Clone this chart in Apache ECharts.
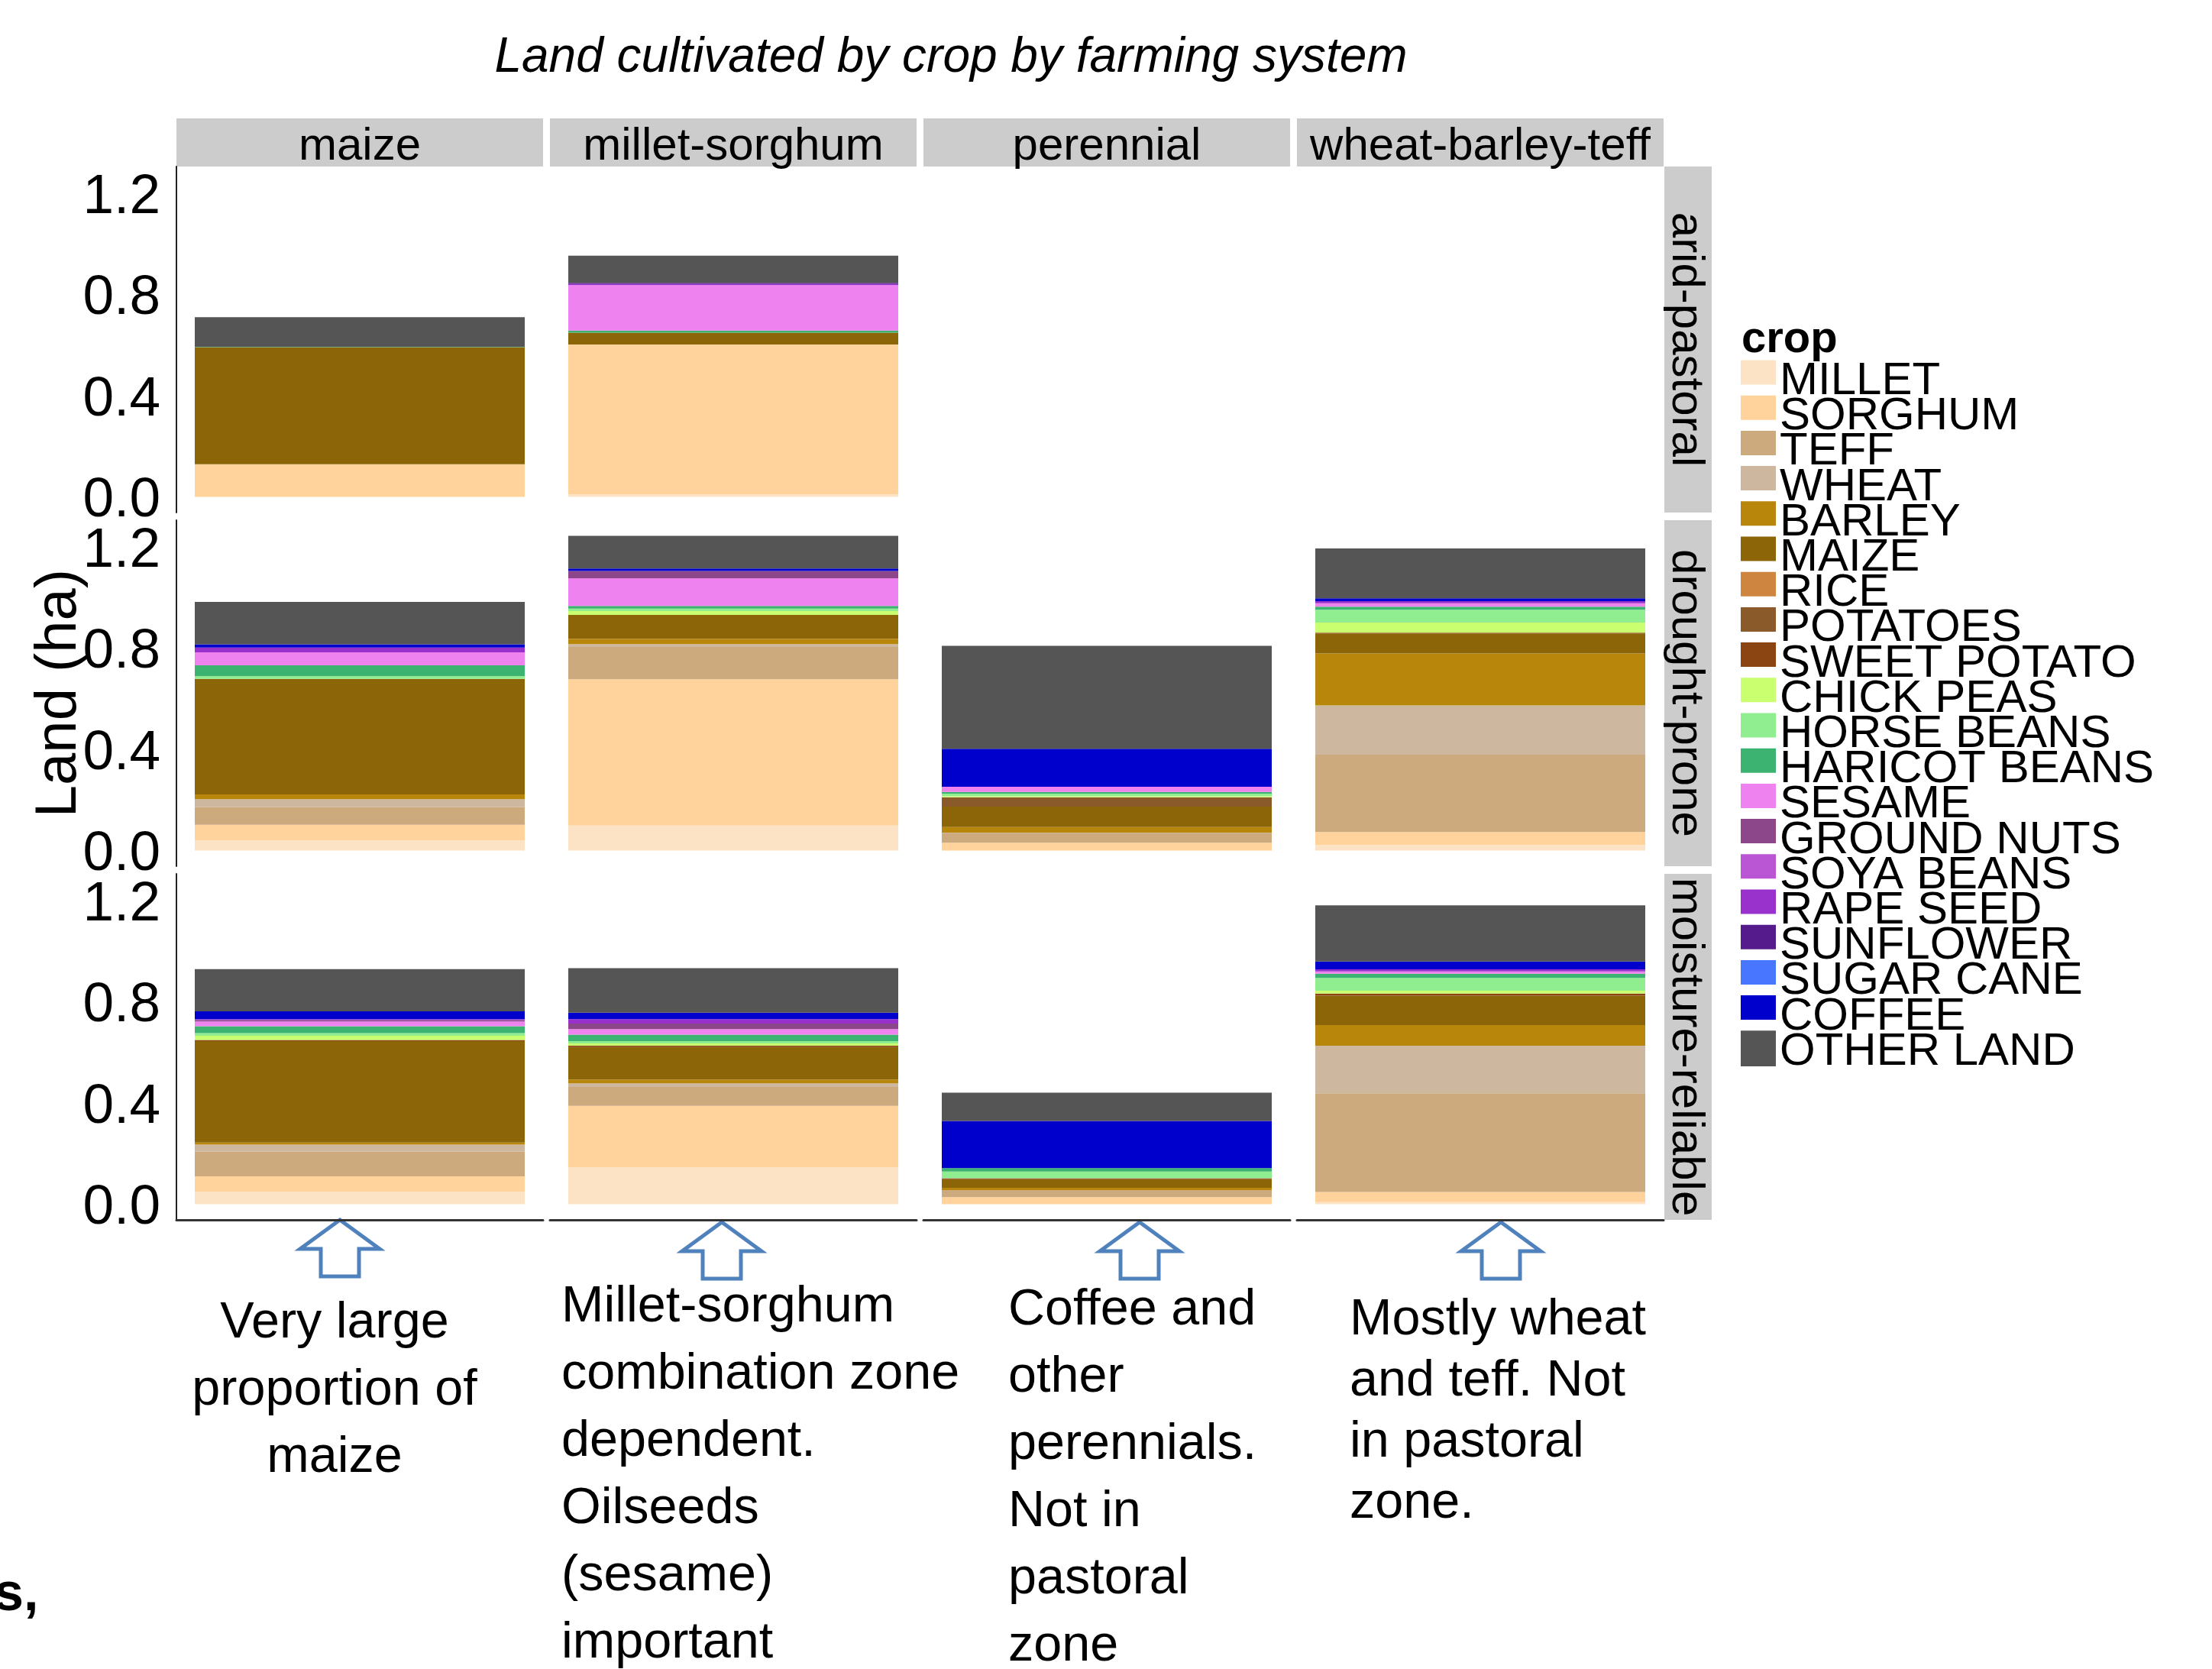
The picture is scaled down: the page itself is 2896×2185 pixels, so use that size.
<!DOCTYPE html>
<html>
<head>
<meta charset="utf-8">
<title>Land cultivated by crop by farming system</title>
<script src="https://cdn.jsdelivr.net/npm/echarts@6/dist/echarts.min.js"></script>
<style>
  html, body { margin: 0; padding: 0; background: #fff; }
  #chart { width: 2896px; height: 2185px; }
</style>
</head>
<body>
<div id="chart"></div>
<script>
const crops = ['MILLET', 'SORGHUM', 'TEFF', 'WHEAT', 'BARLEY', 'MAIZE', 'RICE', 'POTATOES', 'SWEET POTATO', 'CHICK PEAS',
  'HORSE BEANS', 'HARICOT BEANS', 'SESAME', 'GROUND NUTS', 'SOYA BEANS', 'RAPE SEED', 'SUNFLOWER', 'SUGAR CANE', 'COFFEE', 'OTHER LAND']
const cropColors = ['#FDE3C5', '#FFD39B', '#CDAA7D', '#CDB79E', '#B8860B', '#8B6508', '#CD853F', '#8B5A2B', '#8B4513', '#CAFF70',
  '#90EE90', '#3CB371', '#EE82EE', '#8B4789', '#BA55D3', '#9932CC', '#551A8B', '#4876FF', '#0000CD', '#555555']

const systems = ['maize', 'millet-sorghum', 'perennial', 'wheat-barley-teff']
const zones = ['arid-pastoral', 'drought-prone', 'moisture-reliable']
const yTicks = [0, 0.4, 0.8, 1.2]

// land (ha) per crop, same order as crops
const maizeArid = [0, 0.129, 0, 0, 0, 0.463, 0, 0, 0, 0, 0, 0.002, 0, 0, 0, 0, 0, 0, 0, 0.117]
const milletArid = [0.010, 0.593, 0, 0, 0, 0.047, 0, 0, 0, 0, 0, 0.008, 0.180, 0, 0, 0.004, 0.005, 0, 0, 0.107]
const perennialArid = [0, 0, 0, 0, 0, 0, 0, 0, 0, 0, 0, 0, 0, 0, 0, 0, 0, 0, 0, 0]
const wheatArid = [0, 0, 0, 0, 0, 0, 0, 0, 0, 0, 0, 0, 0, 0, 0, 0, 0, 0, 0, 0]

const maizeDrought = [0.041, 0.061, 0.070, 0.031, 0.019, 0.457, 0, 0, 0, 0, 0.011, 0.043, 0.051, 0, 0, 0.019, 0, 0, 0.013, 0.168]
const milletDrought = [0.099, 0.579, 0.127, 0.012, 0.021, 0.094, 0, 0, 0, 0.015, 0.010, 0.011, 0.109, 0.029, 0, 0, 0, 0, 0.010, 0.129]
const perennialDrought = [0, 0.031, 0.037, 0.003, 0.022, 0.081, 0, 0.037, 0, 0.004, 0.010, 0.007, 0.020, 0, 0, 0, 0, 0, 0.151, 0.407]
const wheatDrought = [0.022, 0.051, 0.306, 0.195, 0.206, 0.079, 0, 0, 0.003, 0.040, 0.051, 0.012, 0.013, 0, 0, 0.009, 0, 0, 0.011, 0.197]

const maizeMoisture = [0.048, 0.062, 0.098, 0.028, 0.008, 0.401, 0, 0, 0.005, 0.016, 0.011, 0.027, 0.019, 0.005, 0, 0.004, 0, 0, 0.031, 0.167]
const milletMoisture = [0.146, 0.243, 0.075, 0.014, 0.015, 0.129, 0, 0, 0.005, 0.009, 0.009, 0.026, 0.022, 0.022, 0, 0.017, 0, 0, 0.026, 0.176]
const perennialMoisture = [0, 0.028, 0.028, 0, 0.009, 0.034, 0, 0, 0.004, 0, 0.026, 0.014, 0, 0, 0, 0, 0, 0, 0.186, 0.112]
const wheatMoisture = [0.008, 0.040, 0.391, 0.188, 0.082, 0.116, 0, 0, 0.008, 0.012, 0.050, 0.017, 0.009, 0, 0, 0.008, 0, 0, 0.031, 0.222]

const panels = [
  [maizeArid, milletArid, perennialArid, wheatArid],
  [maizeDrought, milletDrought, perennialDrought, wheatDrought],
  [maizeMoisture, milletMoisture, perennialMoisture, wheatMoisture]
]

const notes = [
  { x: 438, y: 1733, pitch: 88, align: 'center', lines: ['Very large', 'proportion of', 'maize'] },
  { x: 735, y: 1712, pitch: 88, align: 'left', lines: ['Millet-sorghum', 'combination zone', 'dependent.', 'Oilseeds', '(sesame)', 'important'] },
  { x: 1320, y: 1716, pitch: 88, align: 'left', lines: ['Coffee and', 'other', 'perennials.', 'Not in', 'pastoral', 'zone'] },
  { x: 1767, y: 1729, pitch: 80, align: 'left', lines: ['Mostly wheat', 'and teff. Not', 'in pastoral', 'zone.'] }
]
const arrowTips = [[445, 1597], [945, 1600], [1492, 1600], [1965, 1600]]

const FONT = '"Liberation Sans", Arial, sans-serif'
const colLeft = [231, 720, 1209, 1698]
const colWidth = 480
const rowTop = [218, 681, 1144]
const rowHeight = 453
const yMin = -0.062
const yMax = 1.307

const grids = []
const xAxes = []
const yAxes = []
const series = []

zones.forEach((zone, r) => {
  systems.forEach((system, c) => {
    const idx = grids.length
    grids.push({ left: colLeft[c], top: rowTop[r], width: colWidth, height: rowHeight })
    xAxes.push({
      gridIndex: idx,
      type: 'category',
      data: [system],
      axisLine: { show: r === 2, onZero: false, lineStyle: { color: '#333', width: 3 } },
      axisTick: { show: false },
      axisLabel: { show: false }
    })
    yAxes.push({
      gridIndex: idx,
      type: 'value',
      min: yMin,
      max: yMax,
      show: c === 0,
      name: (c === 0 && r === 1) ? 'Land (ha)' : '',
      nameLocation: 'middle',
      nameGap: 115,
      nameMoveOverlap: false,
      nameTextStyle: { fontFamily: FONT, fontSize: 76, color: '#000' },
      splitLine: { show: false },
      axisTick: { show: false },
      axisLine: { show: true, lineStyle: { color: '#222', width: 2 } },
      axisLabel: {
        customValues: yTicks,
        margin: 21,
        formatter: v => '{t|' + v.toFixed(1) + '}',
        rich: { t: { fontFamily: FONT, fontSize: 73, color: '#000', padding: [11, 0, 0, 0] } }
      }
    })
    crops.forEach((crop, k) => {
      series.push({
        name: crop,
        type: 'bar',
        stack: 'panel' + idx,
        xAxisIndex: idx,
        yAxisIndex: idx,
        barWidth: '90%',
        itemStyle: { color: cropColors[k] },
        data: [panels[r][c][k]]
      })
    })
  })
})

const graphics = []

function addText(text, x, y, fontSize, opts) {
  graphics.push({
    type: 'text',
    x: x,
    y: y,
    rotation: (opts && opts.rotation) || 0,
    style: Object.assign({
      text: text,
      fontFamily: FONT,
      fontSize: fontSize,
      fill: '#000',
      align: 'center',
      verticalAlign: 'middle'
    }, (opts && opts.style) || {})
  })
}

// facet strips
systems.forEach((s, c) => {
  graphics.push({ type: 'rect', shape: { x: colLeft[c], y: 155, width: colWidth, height: 63 }, style: { fill: '#CCCCCC' } })
  addText(s, colLeft[c] + colWidth / 2, 192, 60)
})
zones.forEach((z, r) => {
  graphics.push({ type: 'rect', shape: { x: 2179, y: rowTop[r], width: 62, height: rowHeight }, style: { fill: '#CCCCCC' } })
  addText(z, 2207, rowTop[r] + rowHeight / 2, 60, { rotation: -Math.PI / 2 })
})

addText('Land cultivated by crop by farming system', 1245, 76, 64, { style: { fontStyle: 'italic' } })
addText('crop', 2280, 445, 58, { style: { fontWeight: 'bold', align: 'left' } })
addText('s,', -8, 2089, 70, { style: { fontWeight: 'bold', align: 'left' } })

// OTHER LAND key is taller than the others in the reference
graphics.push({ type: 'rect', shape: { x: 2279, y: 1365, width: 46, height: 31 }, style: { fill: cropColors[19] } })

arrowTips.forEach(t => {
  const x = t[0]
  const y = t[1]
  graphics.push({
    type: 'polygon',
    shape: { points: [[x, y], [x + 52, y + 38], [x + 25, y + 38], [x + 25, y + 74], [x - 25, y + 74], [x - 25, y + 38], [x - 52, y + 38]] },
    style: { fill: '#fff', stroke: '#4F81BD', lineWidth: 5 }
  })
})

notes.forEach(n => {
  n.lines.forEach((line, i) => {
    addText(line, n.x, n.y + i * n.pitch, 66.5, { style: { align: n.align } })
  })
})

const chart = echarts.init(document.getElementById('chart'))
chart.setOption({
  animation: false,
  backgroundColor: '#fff',
  grid: grids,
  xAxis: xAxes,
  yAxis: yAxes,
  series: series,
  legend: {
    orient: 'vertical',
    left: 2279,
    top: 469.5,
    padding: 0,
    icon: 'rect',
    selectedMode: false,
    data: crops,
    itemWidth: 46,
    itemHeight: 32,
    itemGap: -13.8,
    formatter: '{t|{name}}',
    textStyle: {
      rich: { t: { fontFamily: FONT, fontSize: 60, color: '#000', padding: [24, 0, 0, 0] } }
    }
  },
  graphic: graphics
})
</script>
</body>
</html>
